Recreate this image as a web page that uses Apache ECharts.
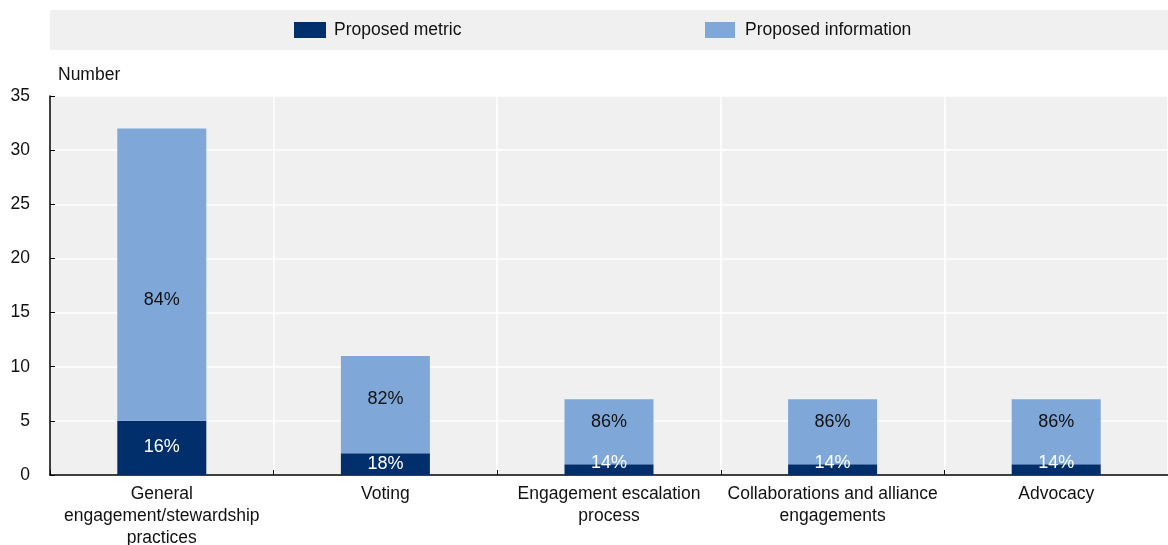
<!DOCTYPE html>
<html><head><meta charset="utf-8">
<script src="https://cdn.jsdelivr.net/npm/echarts@6/dist/echarts.min.js"></script>
<style>html,body{margin:0;padding:0;background:#fff}#c{width:1168px;height:545px}</style>
</head><body><div id="c"></div>
<script>
const categories = ['General\nengagement/stewardship\npractices', 'Voting', 'Engagement escalation\nprocess', 'Collaborations and alliance\nengagements', 'Advocacy'];
const metricValues = [5, 2, 1, 1, 1];
const infoValues = [27, 9, 6, 6, 6];
const yTicks = {min: 0, max: 35, interval: 5};
const seriesNames = ['Proposed metric', 'Proposed information'];
const yAxisTitle = 'Number';

// label placement tweaks (styling only, px)
const infoLabelShift = [25, -6, -10, -10, -10];
const metricLabelShift = [-1, 0, -7, -7, -7];

const FONT = '"Liberation Sans", Arial, sans-serif';
const totals = metricValues.map((v, i) => v + infoValues[i]);
const pct = (v, t) => Math.round(v / t * 100) + '%';

const metricData = metricValues.map((v, i) => ({
  value: v,
  label: {formatter: pct(v, totals[i]), offset: [0, metricLabelShift[i]]}
}));
const infoData = infoValues.map((v, i) => ({
  value: v,
  label: {formatter: pct(v, totals[i]), offset: [0, infoLabelShift[i]]}
}));

const chart = echarts.init(document.getElementById('c'), null, {renderer: 'canvas'});
chart.setOption({
  animation: false,
  textStyle: {fontFamily: FONT},
  graphic: [{type: 'rect', shape: {x: 50, y: 10, width: 1118, height: 40}, style: {fill: '#f0f0f0'}, z: -10}],
  legend: [
    {data: [seriesNames[0]], left: 294, top: 21, padding: 0, itemWidth: 32, itemHeight: 16, itemGap: 10, icon: 'rect',
     textStyle: {fontSize: 17.5, color: '#111', fontFamily: FONT, padding: [0, 0, 0, 3]}},
    {data: [seriesNames[1]], left: 705, top: 21, padding: 0, itemWidth: 30, itemHeight: 16, itemGap: 10, icon: 'rect',
     textStyle: {fontSize: 17.5, color: '#111', fontFamily: FONT, padding: [0, 0, 0, 5]}}
  ],
  grid: {left: 50, right: 0, top: 96, bottom: 70, backgroundColor: '#f0f0f0', show: true, borderWidth: 0,
         outerBoundsMode: 'none', containLabel: false},
  xAxis: {
    type: 'category', data: categories,
    axisLine: {lineStyle: {color: '#000', width: 1.5}},
    axisTick: {show: true, inside: true, length: 5, lineStyle: {color: '#000'}},
    splitLine: {show: true, lineStyle: {color: '#fff', width: 1.5}},
    axisLabel: {fontSize: 17.5, color: '#111', lineHeight: 22, margin: 8, interval: 0, fontFamily: FONT}
  },
  yAxis: {
    type: 'value', min: yTicks.min, max: yTicks.max, interval: yTicks.interval,
    name: yAxisTitle, nameLocation: 'end', nameGap: 12,
    nameTextStyle: {fontSize: 17.5, color: '#111', align: 'left', padding: [0, 0, 0, 8], fontFamily: FONT},
    axisLine: {show: true, lineStyle: {color: '#000', width: 1.5}},
    axisTick: {show: true, inside: true, length: 5, lineStyle: {color: '#000'}},
    splitLine: {show: true, lineStyle: {color: '#fff', width: 1.5}},
    axisLabel: {fontSize: 17.5, color: '#111', margin: 20, fontFamily: FONT}
  },
  series: [
    {name: seriesNames[0], type: 'bar', stack: 'a', data: metricData, barWidth: 89,
     itemStyle: {color: '#002f6c'},
     label: {show: true, position: 'inside', color: '#fff', fontSize: 18, fontFamily: FONT}},
    {name: seriesNames[1], type: 'bar', stack: 'a', data: infoData, barWidth: 89,
     itemStyle: {color: '#7fa8d9'},
     label: {show: true, position: 'inside', color: '#111', fontSize: 18, fontFamily: FONT}}
  ]
});
</script></body></html>
